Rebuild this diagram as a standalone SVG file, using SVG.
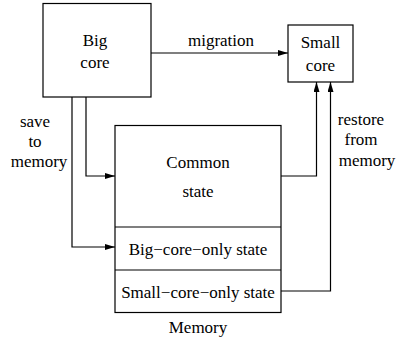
<svg xmlns="http://www.w3.org/2000/svg" width="396" height="341" viewBox="0 0 396 341">
<style>
.box{fill:#fff;stroke:#000;stroke-width:1.2}
.ln{fill:none;stroke:#000;stroke-width:1.2}
text{font-family:Tinos,"Liberation Serif","Times New Roman",Times,"Nimbus Roman","DejaVu Serif",serif;font-size:17px;fill:#000;text-anchor:middle}
</style>
<defs>
<marker id="ah" markerWidth="10" markerHeight="6" refX="10" refY="3" orient="auto" markerUnits="userSpaceOnUse">
<path d="M0,0 L10,3 L0,6 Z" fill="#000"/>
</marker>
</defs>
<rect width="396" height="341" fill="#fff"/>
<g id="connectors">
<path class="ln" d="M130,53 H288" marker-end="url(#ah)"/>
<path class="ln" d="M86,97 V176 H115" marker-end="url(#ah)"/>
<path class="ln" d="M72,97 V247 H115" marker-end="url(#ah)"/>
<path class="ln" d="M281,176 H316.5 V82" marker-end="url(#ah)"/>
<path class="ln" d="M281,291 H330.5 V82" marker-end="url(#ah)"/>
<text x="35" y="127" style="font-family:'Liberation Serif',serif">save</text>
<text x="35" y="147">to</text>
<text x="39" y="167">memory</text>
<text x="221" y="46">migration</text>
<text x="361" y="125">restore</text>
<text x="361" y="145">from</text>
<text x="367" y="166">memory</text>
</g>
<g id="big-core">
<rect class="box" x="43" y="3.5" width="108" height="93.5"/>
<text x="95" y="46">Big</text>
<text x="95" y="68">core</text>
</g>
<g id="small-core">
<rect class="box" x="288" y="25" width="65" height="57"/>
<text x="320.5" y="48">Small</text>
<text x="320.5" y="71">core</text>
</g>
<g id="memory">
<rect class="box" x="115" y="125.5" width="166" height="187"/>
<line class="ln" x1="115" y1="227" x2="281" y2="227"/>
<line class="ln" x1="115" y1="270" x2="281" y2="270"/>
<text x="198" y="168">Common</text>
<text x="198" y="197">state</text>
<text x="198" y="255">Big−core−only state</text>
<text x="198" y="298">Small−core−only state</text>
<text x="198" y="333">Memory</text>
</g>
</svg>
